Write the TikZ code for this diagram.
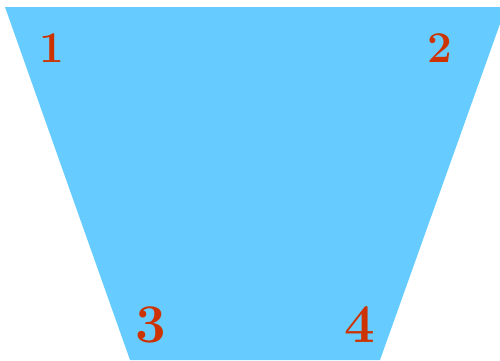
\documentclass[tikz,border=0pt]{standalone}
\usepackage{tikz}
\definecolor{trapblue}{HTML}{66CCFF}
\definecolor{cornerred}{HTML}{CC3300}
\tikzset{
  trapfill/.style={fill=trapblue,draw=none},
  cornerlabel/.style={text=cornerred,font=\fontsize{25}{29}\selectfont\bfseries,inner sep=0pt},
  biglabel/.style={cornerlabel,font=\fontsize{31}{36}\selectfont\bfseries}
}

\begin{document}
\begin{tikzpicture}[x=0.02cm,y=0.02cm]
  \useasboundingbox (0,0) rectangle (500,360);
  \clip (0,0) rectangle (500,360);
  \fill[trapfill] (5,353) -- (506,353) -- (380,0) -- (130,0) -- cycle;
  \node[cornerlabel] (c1) at (52,311.5) {1};
  \node[cornerlabel] (c2) at (440,311.5) {2};
  \node[biglabel] (c3) at (151,35) {3};
  \node[biglabel] (c4) at (360,35) {4};
\end{tikzpicture}
\end{document}
